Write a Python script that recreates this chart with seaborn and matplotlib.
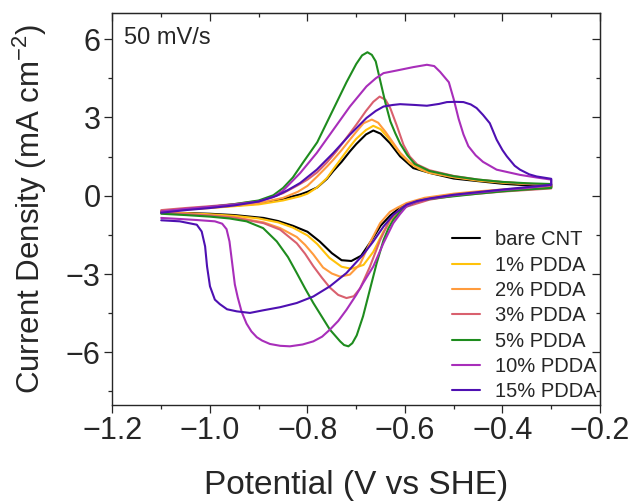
import pandas as pd
import matplotlib
matplotlib.use("Agg")
import matplotlib.pyplot as plt
from matplotlib.ticker import MultipleLocator
import seaborn as sns

# each loop: forward scan -1.1 -> -0.3 V, then reverse scan back to -1.1 V
bare_E = [-1.10, -1.05, -1.00, -0.95, -0.90, -0.85, -0.815, -0.80, -0.78, -0.76, -0.747, -0.73, -0.713, -0.70,
          -0.68, -0.665, -0.65, -0.631, -0.61, -0.583, -0.548, -0.50, -0.45, -0.40, -0.35, -0.30,
          -0.30, -0.35, -0.40, -0.45, -0.50, -0.53, -0.56, -0.585, -0.61, -0.63, -0.65, -0.67, -0.69, -0.71,
          -0.73, -0.75, -0.775, -0.80, -0.83, -0.86, -0.89, -0.95, -1.00, -1.05, -1.10]
bare_J = [-0.62, -0.52, -0.45, -0.38, -0.30, -0.12, 0.05, 0.15, 0.32, 0.65, 0.95, 1.30, 1.70, 1.98,
          2.35, 2.50, 2.38, 2.02, 1.51, 1.06, 0.87, 0.66, 0.56, 0.46, 0.40, 0.37,
          0.33, 0.28, 0.22, 0.14, 0.05, -0.03, -0.12, -0.25, -0.45, -0.75, -1.15, -1.75, -2.30, -2.50,
          -2.47, -2.20, -1.75, -1.38, -1.15, -0.97, -0.85, -0.74, -0.69, -0.66, -0.65]

p1_E = [-1.10, -1.05, -1.00, -0.95, -0.90, -0.85, -0.815, -0.80, -0.78, -0.76, -0.747, -0.73, -0.713, -0.70,
        -0.68, -0.665, -0.65, -0.63, -0.61, -0.59, -0.57, -0.55, -0.50, -0.45, -0.40, -0.35, -0.30,
        -0.30, -0.35, -0.40, -0.45, -0.50, -0.53, -0.56, -0.585, -0.61, -0.63, -0.645, -0.665, -0.685, -0.71,
        -0.73, -0.755, -0.78, -0.80, -0.83, -0.86, -0.90, -0.95, -1.00, -1.05, -1.10]
p1_J = [-0.60, -0.53, -0.47, -0.40, -0.33, -0.18, -0.02, 0.08, 0.32, 0.68, 1.02, 1.45, 1.88, 2.18,
        2.52, 2.68, 2.55, 2.12, 1.62, 1.25, 1.02, 0.88, 0.71, 0.58, 0.50, 0.45, 0.42,
        0.34, 0.28, 0.22, 0.14, 0.05, -0.03, -0.12, -0.27, -0.50, -0.95, -1.40, -2.15, -2.65, -2.80,
        -2.72, -2.38, -1.85, -1.52, -1.22, -1.02, -0.87, -0.77, -0.71, -0.67, -0.64]

p2_E = [-1.10, -1.05, -1.00, -0.95, -0.90, -0.85, -0.82, -0.80, -0.78, -0.76, -0.747, -0.73, -0.713, -0.70,
        -0.685, -0.668, -0.655, -0.64, -0.625, -0.61, -0.59, -0.57, -0.55, -0.50, -0.45, -0.40, -0.35, -0.30,
        -0.30, -0.35, -0.40, -0.45, -0.50, -0.53, -0.56, -0.597, -0.615, -0.631, -0.651, -0.672, -0.692,
        -0.713, -0.733, -0.75, -0.768, -0.788, -0.805, -0.822, -0.856, -0.89, -0.95, -1.00, -1.05, -1.10]
p2_J = [-0.58, -0.50, -0.44, -0.37, -0.28, -0.08, 0.15, 0.38, 0.74, 1.12, 1.38, 1.75, 2.15, 2.45,
        2.78, 2.92, 2.80, 2.45, 2.05, 1.65, 1.28, 1.05, 0.90, 0.72, 0.60, 0.52, 0.46, 0.42,
        0.35, 0.30, 0.24, 0.17, 0.08, 0.00, -0.08, -0.28, -0.45, -0.62, -1.05, -1.80, -2.62,
        -3.02, -3.10, -2.98, -2.75, -2.25, -1.88, -1.58, -1.24, -1.02, -0.82, -0.74, -0.68, -0.64]

p3_E = [-1.10, -1.05, -1.00, -0.95, -0.90, -0.85, -0.82, -0.80, -0.78, -0.76, -0.74, -0.72, -0.70, -0.68,
        -0.665, -0.652, -0.64, -0.63, -0.617, -0.603, -0.59, -0.575, -0.55, -0.50, -0.45, -0.40, -0.35, -0.30,
        -0.30, -0.35, -0.40, -0.45, -0.50, -0.55, -0.597, -0.615, -0.631, -0.651, -0.672, -0.692, -0.705,
        -0.72, -0.737, -0.754, -0.77, -0.788, -0.805, -0.822, -0.856, -0.89, -0.95, -1.00, -1.05, -1.10]
p3_J = [-0.55, -0.47, -0.40, -0.32, -0.20, 0.10, 0.40, 0.62, 0.90, 1.28, 1.72, 2.22, 2.72, 3.25,
        3.60, 3.80, 3.68, 3.35, 2.70, 1.95, 1.50, 1.20, 0.98, 0.76, 0.62, 0.53, 0.46, 0.40,
        0.28, 0.22, 0.16, 0.08, 0.00, -0.15, -0.42, -0.62, -0.92, -1.70, -2.72, -3.55, -3.85,
        -3.92, -3.80, -3.52, -3.15, -2.70, -2.22, -1.82, -1.30, -1.05, -0.84, -0.76, -0.70, -0.66]

p5_E = [-1.10, -1.05, -1.00, -0.95, -0.90, -0.87, -0.85, -0.83, -0.81, -0.78, -0.75, -0.72, -0.70, -0.688,
        -0.677, -0.668, -0.66, -0.65, -0.64, -0.63, -0.62, -0.61, -0.595, -0.58, -0.55, -0.50, -0.45, -0.40,
        -0.35, -0.30,
        -0.30, -0.35, -0.40, -0.45, -0.50, -0.53, -0.562, -0.58, -0.597, -0.61, -0.624, -0.634, -0.644,
        -0.658, -0.672, -0.686, -0.699, -0.708, -0.716, -0.725, -0.733, -0.754, -0.77, -0.788, -0.805,
        -0.822, -0.84, -0.863, -0.891, -0.925, -0.96, -1.00, -1.05, -1.10]
p5_J = [-0.62, -0.52, -0.43, -0.32, -0.18, 0.02, 0.30, 0.70, 1.25, 2.05, 3.20, 4.35, 5.05, 5.38,
        5.50, 5.40, 5.15, 4.35, 3.55, 2.85, 2.40, 2.00, 1.55, 1.22, 0.95, 0.75, 0.62, 0.53,
        0.48, 0.45,
        0.30, 0.24, 0.17, 0.08, -0.02, -0.08, -0.16, -0.25, -0.41, -0.62, -0.92, -1.25, -1.70,
        -2.58, -3.60, -4.62, -5.35, -5.65, -5.77, -5.72, -5.58, -5.13, -4.65, -4.11, -3.55,
        -2.96, -2.35, -1.75, -1.24, -0.98, -0.87, -0.80, -0.74, -0.69]

p10_E = [-1.10, -1.05, -1.00, -0.95, -0.90, -0.87, -0.85, -0.815, -0.781, -0.747, -0.713, -0.679, -0.66,
         -0.644, -0.617, -0.583, -0.555, -0.54, -0.528, -0.51, -0.50, -0.49, -0.48, -0.47, -0.455, -0.44,
         -0.412, -0.364, -0.323, -0.30,
         -0.30, -0.35, -0.40, -0.45, -0.50, -0.55, -0.58, -0.597, -0.61, -0.624, -0.644, -0.665, -0.686,
         -0.70, -0.72, -0.737, -0.754, -0.77, -0.788, -0.81, -0.836, -0.856, -0.877, -0.893, -0.904,
         -0.915, -0.925, -0.935, -0.943, -0.949, -0.955, -0.96, -0.966, -0.975, -0.99, -1.027, -1.062, -1.10]
p10_J = [-0.60, -0.50, -0.42, -0.33, -0.22, -0.05, 0.20, 0.87, 1.64, 2.53, 3.42, 4.19, 4.50,
         4.70, 4.80, 4.93, 5.02, 4.97, 4.75, 4.35, 3.70, 2.95, 2.35, 1.90, 1.55, 1.30,
         1.00, 0.80, 0.68, 0.62,
         0.40, 0.30, 0.22, 0.12, 0.02, -0.12, -0.25, -0.41, -0.70, -1.05, -1.81, -2.71, -3.35,
         -3.80, -4.37, -4.80, -5.13, -5.40, -5.58, -5.70, -5.77, -5.75, -5.68, -5.55, -5.42,
         -5.20, -4.90, -4.45, -3.90, -3.40, -2.50, -1.75, -1.28, -1.07, -0.98, -0.93, -0.89, -0.85]

p15_E = [-1.10, -1.05, -1.00, -0.95, -0.90, -0.863, -0.84, -0.815, -0.781, -0.747, -0.713, -0.679, -0.66,
         -0.644, -0.625, -0.61, -0.58, -0.555, -0.53, -0.514, -0.497, -0.48, -0.465, -0.453, -0.44, -0.426,
         -0.412, -0.40, -0.391, -0.375, -0.364, -0.345, -0.33, -0.30,
         -0.30, -0.35, -0.40, -0.45, -0.50, -0.549, -0.575, -0.597, -0.624, -0.644, -0.665, -0.686, -0.72,
         -0.754, -0.788, -0.822, -0.856, -0.891, -0.918, -0.945, -0.965, -0.98, -0.99, -1.00, -1.006,
         -1.01, -1.017, -1.027, -1.062, -1.10]
p15_J = [-0.65, -0.55, -0.47, -0.37, -0.22, 0.00, 0.22, 0.49, 1.00, 1.64, 2.34, 2.98, 3.25,
         3.42, 3.48, 3.51, 3.48, 3.45, 3.52, 3.59, 3.60, 3.59, 3.50, 3.36, 3.10, 2.78,
         2.15, 1.75, 1.51, 1.15, 1.00, 0.82, 0.74, 0.65,
         0.42, 0.33, 0.24, 0.14, 0.04, -0.10, -0.20, -0.34, -0.73, -1.18, -1.75, -2.26, -2.96,
         -3.47, -3.86, -4.11, -4.27, -4.39, -4.49, -4.43, -4.35, -4.15, -3.98, -3.47, -2.71,
         -1.94, -1.37, -1.11, -0.98, -0.94]

samples = ["bare CNT", "1% PDDA", "2% PDDA", "3% PDDA", "5% PDDA", "10% PDDA", "15% PDDA"]
colors = ["#000000", "#FFC20A", "#FF9B3D", "#D9606E", "#1E8C1E", "#A82EBA", "#4E10B2"]
loops = [(bare_E, bare_J), (p1_E, p1_J), (p2_E, p2_J), (p3_E, p3_J),
         (p5_E, p5_J), (p10_E, p10_J), (p15_E, p15_J)]

df = pd.concat([pd.DataFrame({"E": e, "J": j, "sample": s}) for s, (e, j) in zip(samples, loops)],
               ignore_index=True)

sns.set_style("ticks")
plt.rcParams["font.family"] = ["Liberation Sans", "DejaVu Sans"]
plt.rcParams["mathtext.fontset"] = "custom"
plt.rcParams["mathtext.rm"] = "Liberation Sans"
plt.rcParams["mathtext.it"] = "Liberation Sans:italic"
plt.rcParams["mathtext.default"] = "regular"

fig, ax = plt.subplots(figsize=(6.38, 5.04), dpi=100)
fig.subplots_adjust(left=0.1763, right=0.9404, bottom=0.1974, top=0.974)

sns.lineplot(data=df, x="E", y="J", hue="sample", hue_order=samples, palette=colors,
             sort=False, estimator=None, linewidth=1.5, legend=False, ax=ax)

ax.set_xlim(-1.2, -0.2)
ax.set_ylim(-8, 7)
ax.xaxis.set_major_locator(MultipleLocator(0.2))
ax.xaxis.set_minor_locator(MultipleLocator(0.1))
ax.yaxis.set_major_locator(MultipleLocator(3))
ax.yaxis.set_minor_locator(MultipleLocator(1.5))
ax.set_xticks(ax.get_xticks())
ax.set_xticklabels([f"{v:.1f}".replace("-", "\u2212") for v in ax.get_xticks()])
ax.set_xlim(-1.2, -0.2)

ax.tick_params(which="both", direction="out", width=0.9, labelsize=22, pad=3)
ax.tick_params(which="major", length=5.5)
ax.tick_params(which="minor", length=2.8)
for sp in ax.spines.values():
    sp.set_visible(True)
    sp.set_linewidth(1.0)

# inward ticks on top and right
top = ax.secondary_xaxis("top")
top.xaxis.set_major_locator(MultipleLocator(0.2))
top.xaxis.set_minor_locator(MultipleLocator(0.1))
top.tick_params(which="both", direction="in", width=0.9, labeltop=False)
top.tick_params(which="major", length=5.5)
top.tick_params(which="minor", length=2.8)
right = ax.secondary_yaxis("right")
right.yaxis.set_major_locator(MultipleLocator(3))
right.yaxis.set_minor_locator(MultipleLocator(1.5))
right.tick_params(which="both", direction="in", width=0.9, labelright=False)
right.tick_params(which="major", length=5.5)
right.tick_params(which="minor", length=2.8)

ax.set_xlabel("Potential (V vs SHE)", fontsize=24, labelpad=17)
ax.set_ylabel("Current Density (mA cm$^{-2}$)", fontsize=22.5, labelpad=12)

ax.text(0.024, 0.92, "50 mV/s", transform=ax.transAxes, fontsize=17, va="baseline", ha="left")

ax.legend(ax.get_lines()[:len(samples)], samples, loc="lower right", frameon=False, fontsize=14.5,
          handlelength=1.4, handletextpad=0.75, labelspacing=0.315, borderaxespad=0.1, borderpad=0.05)

fig.savefig("out.png", dpi=100)
